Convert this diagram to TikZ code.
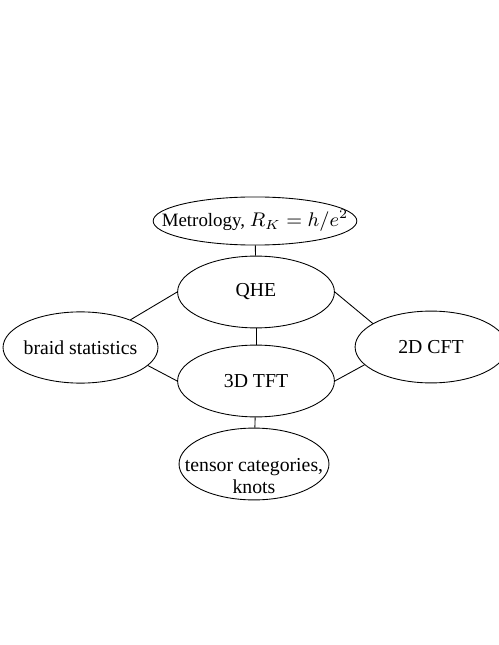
\documentclass[tikz,border=0pt]{standalone}
\usepackage{fontspec}
\setmainfont{Liberation Serif}
\usepackage{tikz}
\usetikzlibrary{shapes.geometric}
\newcommand{\inoval}[1]{\makebox[0pt]{#1}}

\begin{document}
\begin{tikzpicture}[x=0.016cm,y=-0.016cm,topic/.style={ellipse,draw,inner sep=0pt,minimum width=2.51cm,minimum height=1.15cm,font=\fontsize{9}{10}\selectfont}]
\useasboundingbox (0,0) rectangle (498,645);
\node[topic,minimum width=3.26cm,minimum height=0.77cm,font=\fontsize{8.6}{10}\selectfont] (met) at (255,221) {\inoval{Metrology, $R_K=h/e^2$}};
\node[topic] (qhe) at (256,292) {QHE};
\node[topic] (tft) at (256,381) {3D TFT};
\node[topic,minimum width=2.48cm,minimum height=1.14cm] (braid) at (80.5,347.5) {\inoval{braid statistics}};
\node[topic,minimum width=2.43cm] (cft) at (431,347) {2D CFT};
\node[topic,minimum width=2.4cm] (tensor) at (254,464) {\inoval{\smash{\raisebox{-3.4pt}{\begin{tabular}[t]{@{}c@{}}tensor categories,\\knots\end{tabular}}}}};
\draw (met)--(qhe);
\draw (qhe)--(tft);
\draw (tft)--(tensor);
\draw (braid.29)--(qhe.west);
\draw (braid.-15)--(tft.west);
\draw (qhe.east)--(cft.158);
\draw (tft.east)--(cft.195);
\end{tikzpicture}
\end{document}
